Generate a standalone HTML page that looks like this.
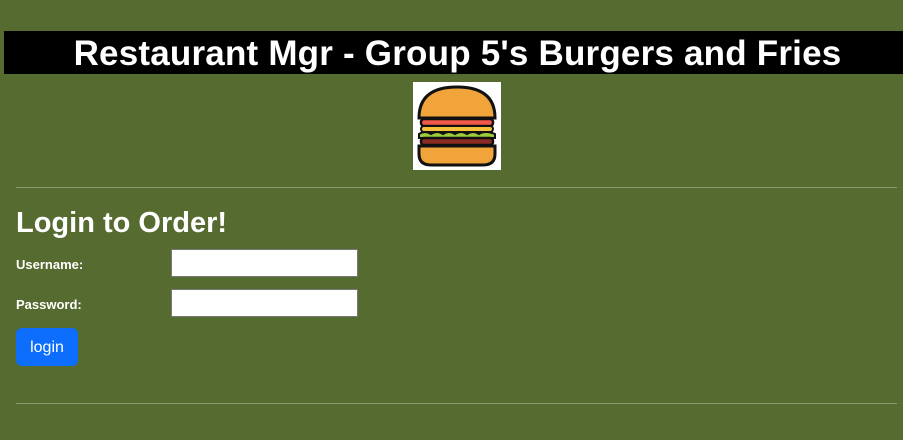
<!DOCTYPE html>
<html><head><meta charset="utf-8"><style>
body{margin:0;width:903px;height:440px;background:#556b2f;font-family:"Liberation Sans",sans-serif;position:relative;overflow:hidden;color:#fff}
.abs{position:absolute}
#title{left:4px;top:31px;width:899px;height:43px;background:#000;font-weight:bold;font-size:35px;line-height:46px;text-align:center;text-indent:8px;letter-spacing:0.2px}
hr{position:absolute;left:16px;width:881px;margin:0;border:0;border-top:1px solid #8a9a6e}
.lbl{left:16px;font-weight:bold;font-size:13px}
input{position:absolute;left:171px;width:187px;height:28px;box-sizing:border-box;border:1px solid #777;background:#fff;padding:0}
button{position:absolute;left:16px;top:328px;width:62px;height:38px;background:#0d6efd;border:0;border-radius:6px;color:#fff;font-size:16px;padding-top:3px;font-family:"Liberation Sans",sans-serif}
</style></head><body>
<div id="title" class="abs">Restaurant Mgr - Group 5's Burgers and Fries</div>
<svg class="abs" style="left:413px;top:82px" width="88" height="88" viewBox="0 0 88 88">
<rect width="88" height="88" fill="#fff"/>
<path d="M6 36 Q6 5 44 5 Q82 5 82 36 Z" fill="#f0a43a" stroke="#111" stroke-width="3"/>
<rect x="8" y="37" width="72" height="7" rx="3" fill="#f2594b" stroke="#111" stroke-width="2.5"/>
<rect x="8" y="44" width="72" height="6" rx="3" fill="#f5c33b" stroke="#111" stroke-width="2"/>
<path d="M6 52 Q12 48 18 52 Q24 48 30 52 Q36 48 42 52 Q48 48 54 52 Q60 48 66 52 Q72 48 82 52 L82 56 L6 56 Z" fill="#9ccc3c" stroke="#111" stroke-width="2"/>
<rect x="8" y="56" width="72" height="7" rx="3" fill="#8b2b23" stroke="#111" stroke-width="2.5"/>
<path d="M6 64 H82 V72 Q82 83 70 83 H18 Q6 83 6 72 Z" fill="#f0a43a" stroke="#111" stroke-width="3"/>
</svg>
<hr style="top:187px">
<div class="abs" style="left:16px;top:207px;font-size:29px;font-weight:bold">Login to Order!</div>
<div class="abs lbl" style="top:257px">Username:</div>
<input style="top:249px">
<div class="abs lbl" style="top:297px">Password:</div>
<input type="password" style="top:289px">
<button>login</button>
<hr style="top:403px">
</body></html>
